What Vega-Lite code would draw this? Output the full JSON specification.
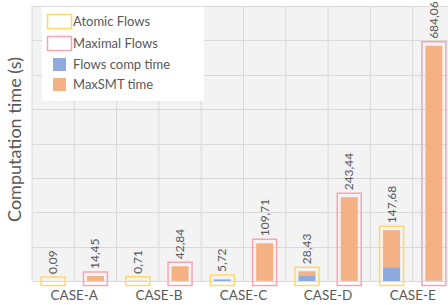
{
  "$schema": "https://vega.github.io/schema/vega-lite/v6.json",
  "width": 416,
  "height": 275,
  "autosize": {"type": "none"},
  "padding": {"left": 32, "top": 6, "right": 0, "bottom": 24},
  "background": "white",
  "view": {"stroke": null, "fill": "#f3f3f3"},
  "config": {
    "font": "Lato",
    "locale": {"number": {"decimal": ",", "thousands": ".", "grouping": [3], "currency": ["", ""]}},
    "axisX": {"title": null, "labelFontSize": 13.5, "labelColor": "#595959", "ticks": false, "domain": false, "grid": false, "labelPadding": 7, "labelAngle": 0},
    "axisY": {"titleFontSize": 18, "titleColor": "#595959", "titleFontWeight": "normal", "labels": false, "ticks": false, "domain": false, "grid": true, "gridColor": "#d9d9d9", "titlePadding": 8}
  },
  "resolve": {"scale": {"xOffset": "independent"}},
  "data": {
    "values": [
      {"case": "CASE-A", "flow": "Atomic Flows", "part": "Flows comp time", "time": 0.02},
      {"case": "CASE-A", "flow": "Atomic Flows", "part": "MaxSMT time", "time": 0.07},
      {"case": "CASE-A", "flow": "Maximal Flows", "part": "Flows comp time", "time": 0.3},
      {"case": "CASE-A", "flow": "Maximal Flows", "part": "MaxSMT time", "time": 14.15},
      {"case": "CASE-B", "flow": "Atomic Flows", "part": "Flows comp time", "time": 0.15},
      {"case": "CASE-B", "flow": "Atomic Flows", "part": "MaxSMT time", "time": 0.56},
      {"case": "CASE-B", "flow": "Maximal Flows", "part": "Flows comp time", "time": 0.5},
      {"case": "CASE-B", "flow": "Maximal Flows", "part": "MaxSMT time", "time": 42.34},
      {"case": "CASE-C", "flow": "Atomic Flows", "part": "Flows comp time", "time": 4.6},
      {"case": "CASE-C", "flow": "Atomic Flows", "part": "MaxSMT time", "time": 1.12},
      {"case": "CASE-C", "flow": "Maximal Flows", "part": "Flows comp time", "time": 0.6},
      {"case": "CASE-C", "flow": "Maximal Flows", "part": "MaxSMT time", "time": 109.11},
      {"case": "CASE-D", "flow": "Atomic Flows", "part": "Flows comp time", "time": 16.6},
      {"case": "CASE-D", "flow": "Atomic Flows", "part": "MaxSMT time", "time": 11.83},
      {"case": "CASE-D", "flow": "Maximal Flows", "part": "Flows comp time", "time": 0.8},
      {"case": "CASE-D", "flow": "Maximal Flows", "part": "MaxSMT time", "time": 242.64},
      {"case": "CASE-E", "flow": "Atomic Flows", "part": "Flows comp time", "time": 40.2},
      {"case": "CASE-E", "flow": "Atomic Flows", "part": "MaxSMT time", "time": 107.48},
      {"case": "CASE-E", "flow": "Maximal Flows", "part": "Flows comp time", "time": 1.2},
      {"case": "CASE-E", "flow": "Maximal Flows", "part": "MaxSMT time", "time": 682.86}
    ]
  },
  "layer": [
    {
      "transform": [{"aggregate": [{"op": "count", "as": "n"}], "groupby": ["case"]}],
      "mark": {"type": "rule", "color": "#d9d9d9", "strokeWidth": 1},
      "encoding": {
        "x": {"field": "case", "type": "nominal", "bandPosition": 0, "scale": {"type": "band", "range": [0, 423], "paddingInner": 0, "paddingOuter": 0}}
      }
    },
    {
      "transform": [{"aggregate": [{"op": "count", "as": "n"}], "groupby": ["case"]}],
      "mark": {"type": "rule", "color": "#d9d9d9", "strokeWidth": 1},
      "encoding": {
        "x": {"field": "case", "type": "nominal", "bandPosition": 0.5}
      }
    },
    {
      "mark": {"type": "bar"},
      "encoding": {
        "x": {"field": "case", "type": "nominal"},
        "xOffset": {"field": "flow", "type": "nominal", "scale": {"type": "band", "paddingInner": 0.598, "paddingOuter": 0.299}},
        "y": {
          "field": "time", "type": "quantitative", "stack": "zero",
          "scale": {"domain": [0, 800], "nice": false},
          "axis": {"title": "Computation time (s)", "values": [0, 100, 200, 300, 400, 500, 600, 700, 800], "titleY": 133}
        },
        "fill": {
          "field": "part", "type": "nominal",
          "scale": {"domain": ["Atomic Flows", "Maximal Flows", "Flows comp time", "MaxSMT time"], "range": ["#ffffff", "#ffffff", "#8faadc", "#f4b183"]},
          "legend": {
            "orient": "none", "legendX": 10, "legendY": 1, "direction": "vertical", "title": null,
            "fillColor": "white", "padding": 7, "labelFontSize": 13, "labelColor": "#595959",
            "symbolSize": 400, "rowPadding": 1, "labelOffset": 6, "symbolOffset": 3,
            "labelExpr": "datum.label + '\u00a0\u00a0\u00a0\u00a0\u00a0\u00a0\u00a0\u00a0\u200b'",
            "encode": {
              "symbols": {
                "update": {
                  "fill": {"signal": "datum.value === 'Flows comp time' ? '#4472c4' : datum.value === 'MaxSMT time' ? '#f4b183' : '#ffffff'"},
                  "stroke": {"signal": "datum.value === 'Atomic Flows' ? '#ffd966' : datum.value === 'Maximal Flows' ? '#f4a6b5' : 'transparent'"},
                  "strokeWidth": {"value": 1.5},
                  "shape": {"signal": "indexof(['Atomic Flows','Maximal Flows'], datum.value) >= 0 ? 'M-1,-0.58H1V0.58H-1Z' : 'square'"},
                  "size": {"signal": "indexof(['Atomic Flows','Maximal Flows'], datum.value) >= 0 ? 576 : 169"}
                }
              }
            }
          }
        },
        "order": {"field": "part", "type": "ordinal", "sort": "ascending"}
      }
    },
    {
      "transform": [{"aggregate": [{"op": "sum", "field": "time", "as": "total"}], "groupby": ["case", "flow"]}],
      "mark": {"type": "bar", "fill": "transparent", "strokeWidth": 1.5, "yOffset": -4, "y2Offset": 4.5},
      "encoding": {
        "x": {"field": "case", "type": "nominal"},
        "xOffset": {"field": "flow", "type": "nominal", "scale": {"type": "band", "paddingInner": 0.433, "paddingOuter": 0.2165}},
        "y": {"field": "total", "type": "quantitative", "axis": {"title": "Computation time (s)", "values": [0, 100, 200, 300, 400, 500, 600, 700, 800], "titleY": 133}},
        "y2": {"datum": 0},
        "stroke": {"field": "flow", "type": "nominal", "scale": {"domain": ["Atomic Flows", "Maximal Flows"], "range": ["#ffd966", "#f4a6b5"]}, "legend": null}
      }
    },
    {
      "transform": [{"aggregate": [{"op": "sum", "field": "time", "as": "total"}], "groupby": ["case", "flow"]}],
      "mark": {"type": "text", "angle": 270, "align": "left", "baseline": "middle", "dx": 7, "fontSize": 12, "color": "#595959"},
      "encoding": {
        "x": {"field": "case", "type": "nominal"},
        "xOffset": {"field": "flow", "type": "nominal", "scale": {"type": "band", "paddingInner": 0, "paddingOuter": 0}},
        "y": {"field": "total", "type": "quantitative", "axis": {"title": "Computation time (s)", "values": [0, 100, 200, 300, 400, 500, 600, 700, 800], "titleY": 133}},
        "text": {"field": "total", "type": "quantitative", "format": ".2f"}
      }
    }
  ]
}
